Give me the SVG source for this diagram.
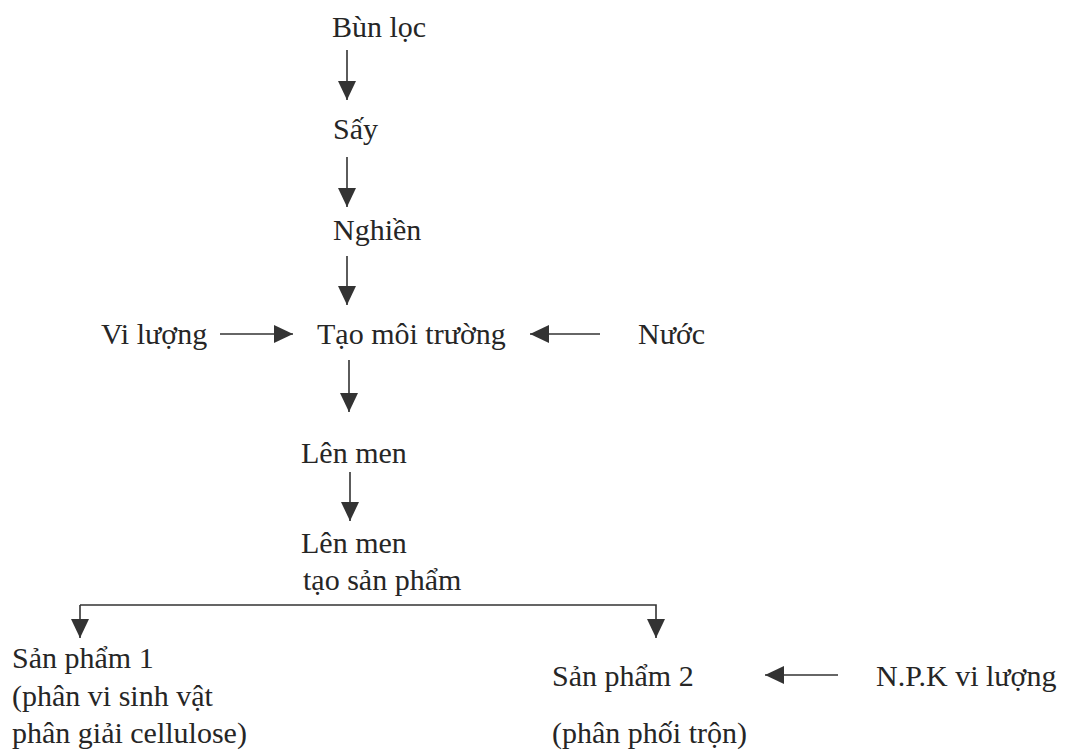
<svg xmlns="http://www.w3.org/2000/svg" width="1065" height="752" viewBox="0 0 1065 752">
<style>
text{font-family:"Liberation Serif","DejaVu Serif",serif;font-size:30px;fill:#262626}
.c{stroke:#333333;stroke-width:1.6;fill:none}
</style>
<defs>
<marker id="ah" markerUnits="userSpaceOnUse" markerWidth="20" markerHeight="18" refX="19" refY="9" orient="auto">
<path d="M0,0 L19,9 L0,18 Z" fill="#333333"/>
</marker>
</defs>
<rect width="1065" height="752" fill="#ffffff"/>
<g id="connectors">
<line class="c" x1="347" y1="50" x2="347" y2="100" marker-end="url(#ah)"/>
<line class="c" x1="347" y1="157" x2="347" y2="207" marker-end="url(#ah)"/>
<line class="c" x1="347" y1="256" x2="347" y2="305" marker-end="url(#ah)"/>
<line class="c" x1="220" y1="334" x2="293" y2="334" marker-end="url(#ah)"/>
<line class="c" x1="600" y1="334" x2="530" y2="334" marker-end="url(#ah)"/>
<line class="c" x1="349" y1="360" x2="349" y2="412" marker-end="url(#ah)"/>
<line class="c" x1="350" y1="472" x2="350" y2="521" marker-end="url(#ah)"/>
<polyline class="c" points="80,605 656,605 656,638" marker-end="url(#ah)"/>
<line class="c" x1="80" y1="605" x2="80" y2="638" marker-end="url(#ah)"/>
<line class="c" x1="838" y1="675" x2="765" y2="675" marker-end="url(#ah)"/>
</g>
<g id="n_bunloc"><text x="332" y="37">Bùn lọc</text></g>
<g id="n_say"><text x="333" y="139">Sấy</text></g>
<g id="n_nghien"><text x="333" y="240">Nghiền</text></g>
<g id="n_viluong"><text x="101" y="344">Vi lượng</text></g>
<g id="n_taomoitruong"><text x="317" y="344">Tạo môi trường</text></g>
<g id="n_nuoc"><text x="638" y="344">Nước</text></g>
<g id="n_lenmen"><text x="301" y="463">Lên men</text></g>
<g id="n_lenmen2"><text x="301" y="553">Lên men</text><text x="303" y="590">tạo sản phẩm</text></g>
<g id="n_sp1"><text x="12" y="668">Sản phẩm 1</text><text x="12" y="706">(phân vi sinh vật</text><text x="12" y="743">phân giải cellulose)</text></g>
<g id="n_sp2"><text x="552" y="686">Sản phẩm 2</text><text x="552" y="743">(phân phối trộn)</text></g>
<g id="n_npk"><text x="876" y="686">N.P.K vi lượng</text></g>
</svg>
